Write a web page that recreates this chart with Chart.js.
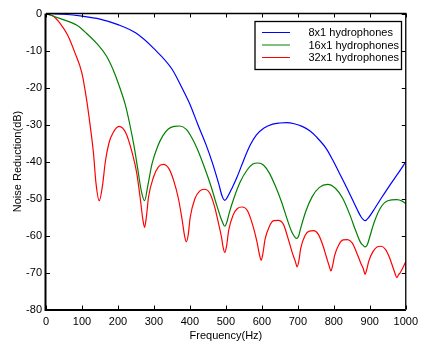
<!DOCTYPE html>
<html>
<head>
<meta charset="utf-8">
<script src="https://cdn.jsdelivr.net/npm/chart.js@4.4.0/dist/chart.umd.min.js"></script>
<style>
  html, body { margin: 0; padding: 0; background: #fff; }
  #wrap { width: 424px; height: 343px; position: relative; }
</style>
</head>
<body>
<div id="wrap"><canvas id="myChart"></canvas></div>
<script>
// series labels and colours
const seriesLabels = ['8x1 hydrophones', '16x1 hydrophones', '32x1 hydrophones'];
const seriesColors = ['#0000ff', '#008000', '#ff0000'];

// 8x1 hydrophones
const freq8 = [0, 50, 100, 150, 200, 250, 300, 350, 380, 400, 422, 445, 463, 480, 490, 497, 505, 518, 532, 550, 568, 585, 605, 630, 650, 669, 690, 712, 733, 751, 779, 797, 820, 843, 865, 876, 887, 898, 915, 934, 955, 978, 1000];
const nr8 = [0, -0.2, -0.7, -1.5, -3, -5.3, -9.5, -15, -20.5, -24.5, -30, -35.5, -40.5, -46, -49.5, -50.5, -49.5, -47, -44, -39.5, -35.5, -32.8, -31, -29.9, -29.6, -29.5, -29.8, -30.5, -31.7, -33.3, -36.5, -39.6, -44, -48.5, -53, -55, -56, -55, -52.5, -49.6, -46.5, -43.3, -40.1];

// 16x1 hydrophones
const freq16 = [0, 40, 86, 113, 141, 168, 190, 205, 220, 233, 245, 255, 265, 274, 283, 295, 310, 325, 340, 356, 372, 390, 405, 420, 440, 458, 472, 485, 491, 497, 503, 509, 522, 540, 559, 575, 589, 605, 620, 637, 655, 670, 683, 690, 696, 702, 708, 722, 740, 760, 783, 805, 825, 845, 862, 875, 881, 887, 893, 898, 912, 930, 950, 975, 990, 1000];
const nr16 = [0, -1.4, -3.2, -5.4, -8.1, -11.5, -16, -20, -24.5, -30, -36, -42, -48, -50.6, -46.5, -40.5, -36, -33, -31.2, -30.5, -30.4, -31.3, -33.5, -36.5, -41.5, -46.5, -51, -55, -56.5, -57.5, -56.3, -54, -50, -45.5, -42.3, -40.7, -40.4, -41, -43, -46.5, -51, -55.5, -59, -60.2, -60.8, -60.2, -58, -53.5, -49.5, -47, -46.2, -47.3, -50, -54.5, -59, -62, -62.6, -63.1, -62.5, -61, -56.5, -52.5, -50.6, -50.3, -50.7, -51.4];

// 32x1 hydrophones
const freq32 = [0, 20, 40, 60, 80, 100, 113, 122, 132, 139, 148, 157, 165, 175, 186, 203, 222, 240, 252, 262, 269, 274, 279, 285, 299, 312, 326, 342, 356, 368, 378, 385, 390, 395, 401, 414, 427, 440, 455, 468, 479, 488, 492, 497, 502, 508, 520, 532, 545, 560, 574, 586, 593, 598, 603, 609, 621, 633, 646, 660, 672, 684, 693, 698, 703, 708, 720, 732, 744, 757, 769, 780, 787, 792, 797, 802, 814, 826, 838, 851, 863, 875, 882, 887, 892, 897, 908, 920, 932, 944, 955, 965, 970, 975, 980, 985, 1000];
const nr32 = [0, -0.7, -2.8, -5.8, -10.5, -16.2, -23.4, -29.7, -37.8, -45.9, -50.6, -46.5, -40, -35, -32.3, -30.5, -32.3, -37.8, -43, -50, -55.5, -57.8, -55, -49.6, -44.2, -41.5, -40.8, -42, -45.5, -50, -55.5, -60, -61.7, -60, -55, -50, -48, -47.5, -48.5, -52, -56.5, -60.5, -63, -64.6, -62.8, -58.5, -54.5, -52.7, -52.3, -53.3, -57, -61.5, -65, -66.7, -64.8, -61, -57.5, -56, -55.9, -57, -60.5, -64.5, -67, -68.5, -66.8, -63.5, -60, -58.8, -58.7, -59.7, -62.5, -66, -68.2, -69.6, -68, -65.5, -62.5, -61.2, -61.1, -62, -64.5, -67.5, -69, -70.5, -69, -67, -64.5, -63.1, -62.9, -63.8, -66, -68.8, -70.2, -71.4, -70.6, -70, -67.1];

const freqs = [freq8, freq16, freq32];
const values = [nr8, nr16, nr32];

const toPoints = (xs, ys) => xs.map((x, i) => ({ x: x, y: ys[i] }));

// frame with inward ticks, plus boxed legend
const framePlugin = {
  id: 'frame',
  afterDraw(chart) {
    const { ctx, chartArea: a, scales: { x, y } } = chart;
    ctx.save();
    ctx.strokeStyle = '#000';
    const tl = 4;

    ctx.lineWidth = 1;
    ctx.beginPath();
    x.ticks.forEach(t => {
      const px = Math.round(x.getPixelForValue(t.value)) + 0.5;
      ctx.moveTo(px, a.bottom); ctx.lineTo(px, a.bottom - tl);
      ctx.moveTo(px, a.top); ctx.lineTo(px, a.top + tl);
    });
    y.ticks.forEach(t => {
      const py = Math.round(y.getPixelForValue(t.value)) + 0.5;
      ctx.moveTo(a.left, py); ctx.lineTo(a.left + tl, py);
      ctx.moveTo(a.right, py); ctx.lineTo(a.right - tl, py);
    });
    ctx.stroke();

    // top + right thin
    ctx.lineWidth = 1.3;
    ctx.beginPath();
    ctx.moveTo(a.left, a.top); ctx.lineTo(a.right, a.top); ctx.lineTo(a.right, a.bottom);
    ctx.stroke();
    // left + bottom thick
    ctx.lineWidth = 2;
    ctx.beginPath();
    ctx.moveTo(a.left - 0.5, a.top); ctx.lineTo(a.left - 0.5, a.bottom + 0.5); ctx.lineTo(a.right, a.bottom + 0.5);
    ctx.stroke();

    // legend
    ctx.fillStyle = '#fff';
    ctx.fillRect(255, 21.5, 146.5, 48);
    ctx.lineWidth = 1.3;
    ctx.strokeRect(255, 21.5, 146.5, 48);
    ctx.font = '11px "Liberation Sans", Arial, sans-serif';
    ctx.textBaseline = 'middle';
    ctx.textAlign = 'left';
    chart.data.datasets.forEach((ds, i) => {
      const ly = 32.5 + i * 12.5;
      ctx.strokeStyle = ds.borderColor;
      ctx.lineWidth = 1;
      ctx.beginPath();
      ctx.moveTo(262, ly); ctx.lineTo(290, ly);
      ctx.stroke();
      ctx.fillStyle = '#000';
      ctx.fillText(ds.label, 308.5, ly + 0.5);
    });
    ctx.restore();
  }
};

Chart.defaults.font.family = '"Liberation Sans", Arial, sans-serif';
Chart.defaults.font.size = 11;
Chart.defaults.color = '#000';

const ctx = document.getElementById('myChart').getContext('2d');
new Chart(ctx, {
  type: 'line',
  data: {
    datasets: seriesLabels.map((label, i) => ({
      label: label,
      data: toPoints(freqs[i], values[i]),
      borderColor: seriesColors[i],
      backgroundColor: seriesColors[i],
      borderWidth: 1.2,
      pointRadius: 0,
      fill: false,
      cubicInterpolationMode: 'monotone'
    }))
  },
  options: {
    responsive: true,
    maintainAspectRatio: false,
    animation: false,
    layout: { padding: { top: 13.5, right: 13.3, bottom: 0, left: 0 } },
    plugins: {
      legend: { display: false },
      tooltip: { enabled: false }
    },
    scales: {
      x: {
        type: 'linear',
        min: 0,
        max: 1000,
        grid: { display: false, drawTicks: false },
        border: { display: false },
        ticks: { stepSize: 100, padding: 6, maxRotation: 0, callback: v => String(v) },
        title: { display: true, text: 'Frequency(Hz)', padding: { top: 0, bottom: 0 } },
        afterFit(scale) { scale.height = 33.5; }
      },
      y: {
        type: 'linear',
        min: -80,
        max: 0,
        grid: { display: false, drawTicks: false },
        border: { display: false },
        ticks: { stepSize: 10, padding: 4, callback: v => String(v) },
        title: { display: true, text: 'Noise Reduction(dB)', padding: { top: 11, bottom: 0 } },
        afterFit(scale) { scale.width = 46; }
      }
    }
  },
  plugins: [framePlugin]
});
</script>
</body>
</html>
